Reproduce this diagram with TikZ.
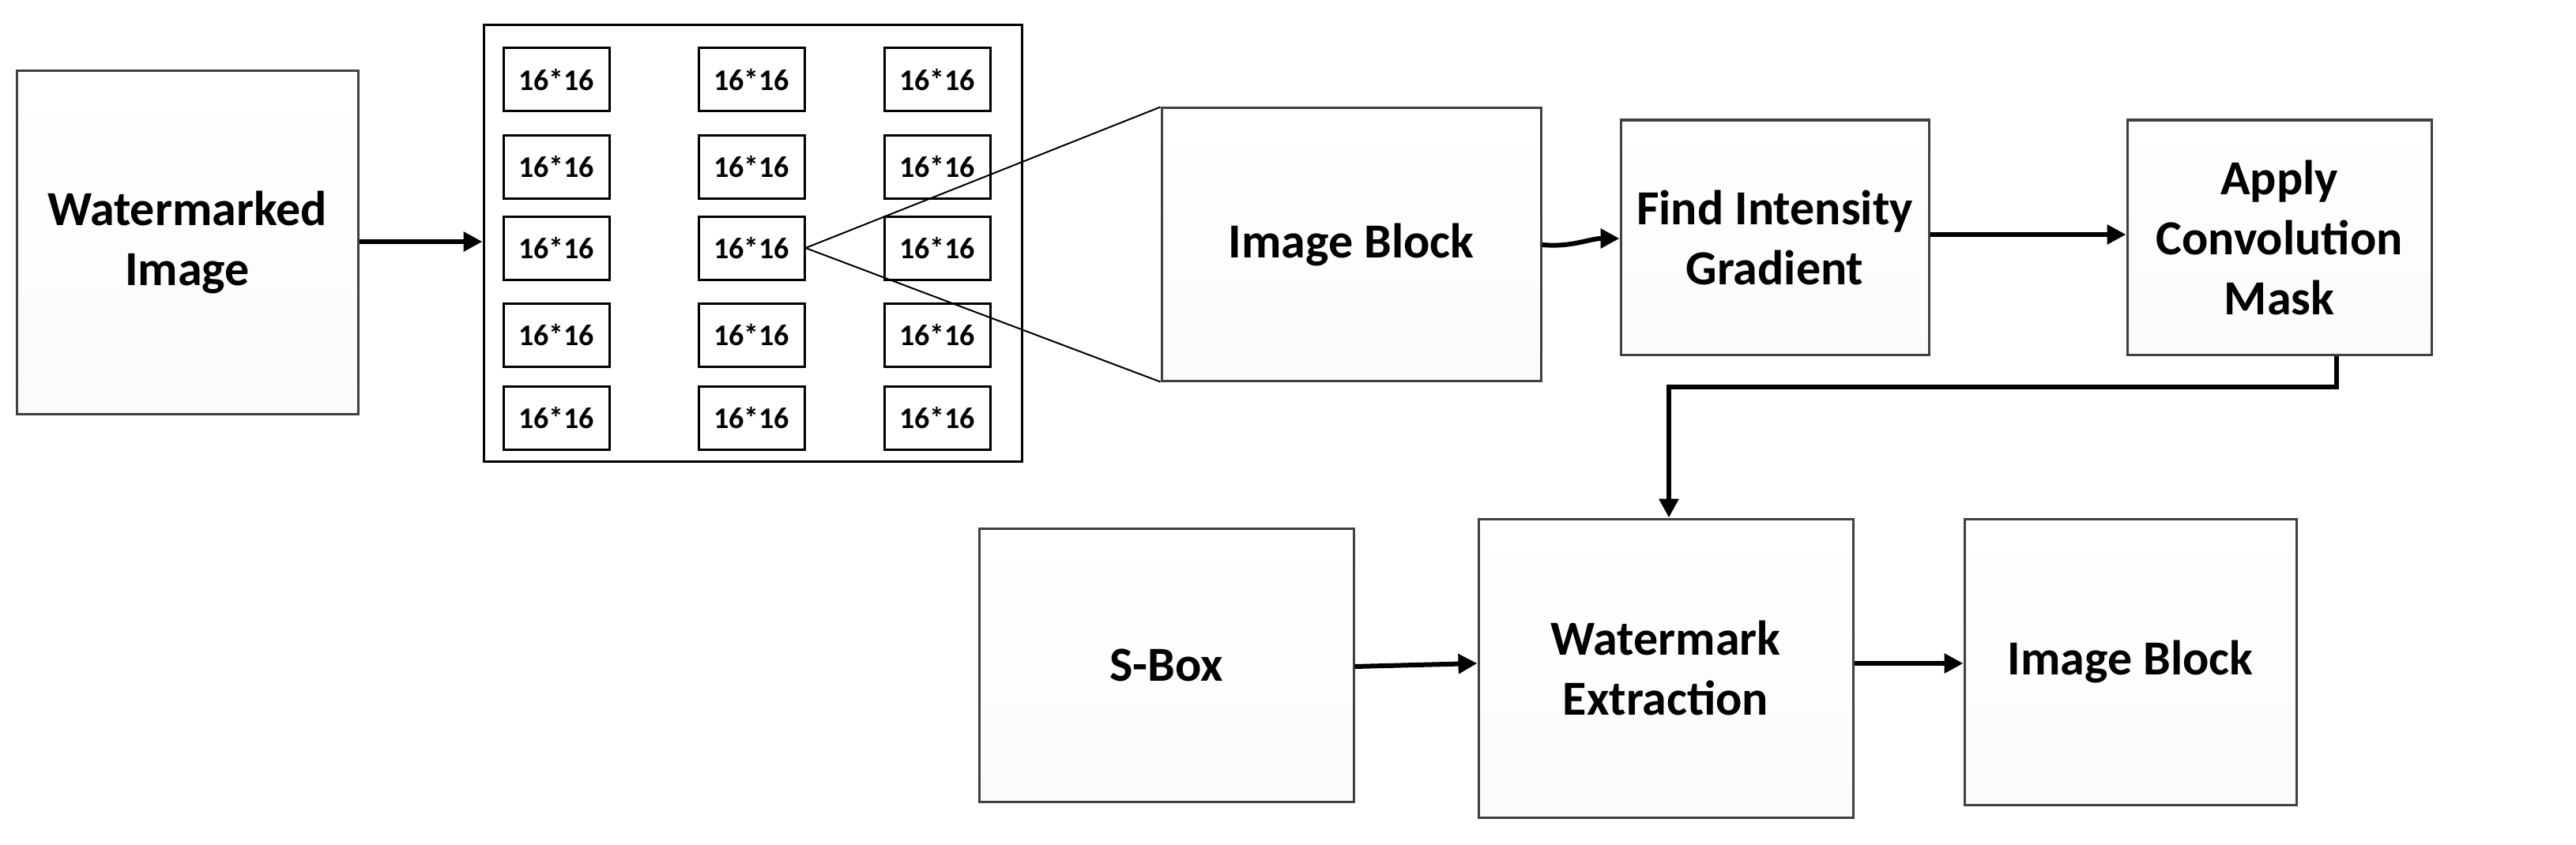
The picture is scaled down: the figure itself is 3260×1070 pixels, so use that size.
\documentclass[tikz,border=0pt]{standalone}
\usepackage{fontspec}
\setmainfont{Carlito}
\usetikzlibrary{arrows.meta}
\begin{document}
\begin{tikzpicture}[x=1pt,y=-1pt,
  box/.style={draw=black!75, line width=3pt, top color=white, bottom color=blue!2!gray!3, font=\fontsize{62}{76}\selectfont\bfseries, align=center, inner sep=0pt},
  small/.style={draw=black, line width=3pt, fill=white, font=\fontsize{38}{44}\selectfont\bfseries, inner sep=0pt},
  arr/.style={line width=6pt, -{Triangle[length=24pt,width=24pt]}}]
\useasboundingbox (0,0) rectangle (3260,1070);
\newcommand{\bx}[6]{\node[box, minimum width=#4-#2, minimum height=#5-#3] (#1) at ({(#2+#4)/2},{(#3+#5)/2}) {#6};}
\bx{wm}{21}{90}{453}{524}{Watermarked\\Image}
\node[draw=black, line width=3pt, fill=white, minimum width=681, minimum height=552, inner sep=0pt] (grid) at (952.5,308) {};
\foreach \cx/\c in {704/a,951/b,1186/c}{
 \foreach \cy/\r in {101/1,211/2,314/3,424/4,529/5}{
  \node[small, minimum width=134, minimum height=80] (s\c\r) at (\cx,\cy) {16*16};
 }}
\bx{ib}{1470}{137}{1950}{482}{Image Block}
\bx{fig}{2051}{152}{2441}{449}{Find Intensity\\Gradient}
\bx{acm}{2692}{152}{3077}{449}{Apply\\Convolution\\Mask}
\bx{sb}{1239}{669}{1713}{1015}{S-Box}
\bx{we}{1871}{657}{2345}{1035}{Watermark\\Extraction}
\bx{ib2}{2486}{657}{2906}{1019}{Image Block}
\draw[line width=2pt] (ib.north west) -- (sb3.east) -- (ib.south west);
\draw[arr] (wm.east |- 0,306) -- (grid.west |- 0,306);
\draw[arr] (ib.east |- 0,310) to[out=-5,in=180] (fig.west |- 0,302);
\draw[arr] (fig.east |- 0,297) -- (acm.west |- 0,297);
\coordinate (c1) at (2957,490);
\draw[arr] (acm.south -| c1) -- (c1) -- (c1 -| 2112,0) -- (we.north -| 2112,0);
\draw[arr] (sb.east |- 0,844) -- (we.west |- 0,840);
\draw[arr] (we.east |- 0,840) -- (ib2.west |- 0,840);
\end{tikzpicture}
\end{document}
